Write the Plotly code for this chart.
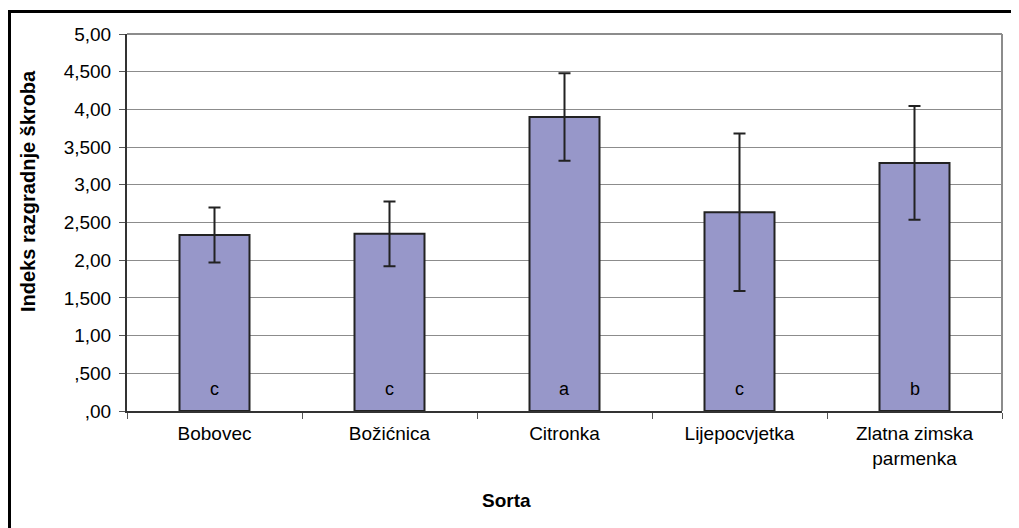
import plotly.graph_objects as go

categories = ["Bobovec", "Božićnica", "Citronka", "Lijepocvjetka", "Zlatna zimska<br>parmenka"]
values = [2.334, 2.35, 3.90, 2.635, 3.29]
errors = [0.365, 0.43, 0.58, 1.045, 0.755]
letters = ["c", "c", "a", "c", "b"]
ytick_vals = [0, 0.5, 1.0, 1.5, 2.0, 2.5, 3.0, 3.5, 4.0, 4.5, 5.0]
ytick_text = [",00", ",500", "1,00", "1,500", "2,00", "2,500", "3,00", "3,500", "4,00", "4,500", "5,00"]

OFF = 8  # default page body margin
W, H = 1011, 520
PL, PR, PT, PB = 127, 1002, 34, 411  # plot area in page pixels
L, T = PL - OFF, PT - OFF
R = W - (PR - OFF)
B = H - (PB - OFF)
pw, ph = PR - PL, PB - PT

def px_x(p):
    return (p - PL) / pw

def px_y(p):
    return (PB - p) / ph

FONT = "Liberation Sans, Arial, sans-serif"

fig = go.Figure()
fig.add_trace(go.Bar(
    x=categories, y=values,
    width=0.4,
    marker=dict(color="#9797C9", line=dict(color="#222222", width=2)),
    error_y=dict(type="data", array=errors, visible=True, color="#222222", thickness=2, width=6),
    showlegend=False,
))

for c, t in zip(categories, letters):
    fig.add_annotation(x=c, y=0, xref="x", yref="y", text=t, showarrow=False,
                       yshift=22, font=dict(family=FONT, size=18, color="black"))

# Axis titles
fig.add_annotation(x=px_x(28), y=px_y(191), xref="paper", yref="paper",
                   xanchor="center", yanchor="middle",
                   text="<b>Indeks razgradnje škroba</b>", textangle=-90, showarrow=False,
                   font=dict(family=FONT, size=20, color="black"))
fig.add_annotation(x=px_x(506), y=px_y(500), xref="paper", yref="paper",
                   xanchor="center", yanchor="middle",
                   text="<b>Sorta</b>", showarrow=False,
                   font=dict(family=FONT, size=19, color="black"))

# plot-area top/right border (grey)
fig.add_shape(type="line", xref="paper", yref="paper", x0=0, x1=1, y0=1, y1=1,
              line=dict(color="#8c8c8c", width=2))
fig.add_shape(type="line", xref="paper", yref="paper", x0=1, x1=1, y0=0, y1=1,
              line=dict(color="#8c8c8c", width=2))
# outer chart frame
fig.add_shape(type="rect", xref="paper", yref="paper",
              x0=px_x(9.5), x1=px_x(1060), y0=px_y(600), y1=px_y(11.5),
              line=dict(color="black", width=3))

fig.update_layout(
    width=W, height=H,
    margin=dict(l=L, r=R, t=T, b=B),
    plot_bgcolor="white", paper_bgcolor="white",
    font=dict(family=FONT, size=19, color="black"),
    bargap=0.6,
)
fig.update_xaxes(
    showline=True, linecolor="#333333", linewidth=2,
    ticks="outside", tickson="boundaries", ticklen=6, tickcolor="#555555",
    ticklabelstandoff=4,
    showgrid=False, tickfont=dict(family=FONT, size=19, color="black"),
)
fig.update_yaxes(
    range=[0, 5], tickvals=ytick_vals, ticktext=ytick_text,
    showline=True, linecolor="#333333", linewidth=2,
    ticks="outside", ticklen=6, tickcolor="#555555",
    ticklabelstandoff=4,
    showgrid=True, gridcolor="#8c8c8c", gridwidth=1,
    zeroline=False, tickfont=dict(family=FONT, size=19, color="black"),
)

fig.write_html("out.html")
